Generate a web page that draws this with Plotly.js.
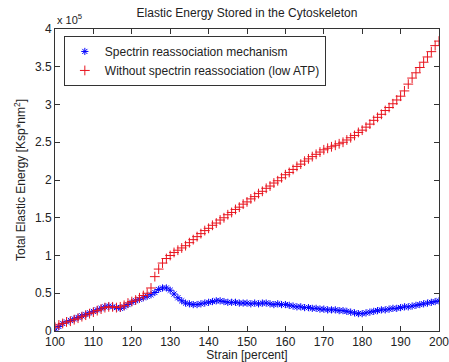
<!DOCTYPE html>
<html>
<head>
<meta charset="utf-8">
<script src="https://cdn.plot.ly/plotly-3.0.1.min.js"></script>
<style>html,body{margin:0;padding:0;background:#fff;}#chart{width:449px;height:362px;}</style>
</head>
<body>
<div id="chart"></div>
<script>
// Strain in percent (x axis)
const strain = [];
for (let s = 100; s <= 200; s++) strain.push(s);

// Total elastic energy, in units of 1e5 Ksp*nm^2
const withReassociation = [
  0.00,0.06,0.10,0.12,0.14,0.16,0.18,0.20,0.22,0.24,
  0.26,0.28,0.30,0.32,0.33,0.32,0.31,0.30,0.32,0.35,
  0.38,0.40,0.42,0.44,0.46,0.48,0.51,0.55,0.57,0.57,
  0.54,0.49,0.44,0.40,0.37,0.36,0.35,0.35,0.36,0.37,
  0.38,0.39,0.40,0.40,0.39,0.38,0.38,0.38,0.37,0.37,
  0.37,0.36,0.37,0.36,0.37,0.37,0.36,0.35,0.36,0.35,
  0.35,0.34,0.33,0.32,0.32,0.31,0.31,0.30,0.30,0.29,
  0.29,0.28,0.28,0.28,0.27,0.27,0.26,0.25,0.24,0.23,
  0.23,0.24,0.25,0.26,0.27,0.28,0.28,0.29,0.30,0.30,
  0.31,0.32,0.32,0.33,0.34,0.35,0.36,0.37,0.38,0.39,
  0.40
];
const withoutReassociation = [
  0.05,0.08,0.10,0.12,0.13,0.15,0.17,0.19,0.21,0.23,
  0.25,0.27,0.29,0.31,0.32,0.32,0.31,0.32,0.34,0.37,
  0.39,0.41,0.44,0.47,0.50,0.57,0.72,0.82,0.90,0.96,
  1.00,1.04,1.07,1.10,1.13,1.17,1.21,1.25,1.29,1.33,
  1.36,1.40,1.43,1.47,1.50,1.54,1.57,1.61,1.64,1.68,
  1.71,1.75,1.78,1.82,1.85,1.89,1.92,1.96,1.99,2.03,
  2.07,2.10,2.14,2.18,2.21,2.25,2.28,2.31,2.34,2.37,
  2.40,2.42,2.44,2.46,2.48,2.50,2.53,2.56,2.59,2.63,
  2.66,2.70,2.74,2.79,2.83,2.87,2.92,2.96,3.01,3.06,
  3.11,3.18,3.27,3.35,3.42,3.49,3.56,3.63,3.70,3.78,
  3.84
];

const seriesNames = ["Spectrin reassociation mechanism", "Without spectrin reassociation (low ATP)"];
const xTicks = [100,110,120,130,140,150,160,170,180,190,200];
const yTicks = [0,0.5,1,1.5,2,2.5,3,3.5,4];
const yTickLabels = ["0","0.5","1","1.5","2","2.5","3","3.5","4"];

const font = "Liberation Sans, Arial, sans-serif";
const axisColor = "#333333";

const traces = [
  {
    x: strain, y: withReassociation, name: seriesNames[0],
    type: "scatter", mode: "markers",
    marker: {symbol: "asterisk-open", size: 6, color: "#0000ff", line: {color: "#0000ff", width: 1}}
  },
  {
    x: strain, y: withoutReassociation, name: seriesNames[1],
    type: "scatter", mode: "markers",
    marker: {symbol: "cross-thin-open", size: 7, color: "#e8141e", line: {color: "#e8141e", width: 1}}
  }
];

const layout = {
  width: 449, height: 362,
  margin: {l: 55, r: 10, t: 29, b: 31},
  paper_bgcolor: "#ffffff", plot_bgcolor: "#ffffff",
  font: {family: font, size: 12, color: "#222"},
  showlegend: true,
  title: {text: "Elastic Energy Stored in the Cytoskeleton", font: {family: font, size: 12, color: "#222"},
          x: 0.5, xref: "paper", y: 0.975, yref: "container", xanchor: "center"},
  xaxis: {
    range: [100, 200], tickvals: xTicks, ticktext: xTicks.map(String),
    ticks: "inside", ticklen: 5, tickcolor: axisColor, mirror: "ticks",
    showline: true, linecolor: axisColor, linewidth: 1, showgrid: false, zeroline: false,
    ticklabeloverflow: "allow",
    tickfont: {family: font, size: 12, color: "#222"},
    title: {text: "Strain [percent]", font: {family: font, size: 12, color: "#222"}, standoff: 2}
  },
  yaxis: {
    range: [0, 4], tickvals: yTicks, ticktext: yTickLabels,
    ticks: "inside", ticklen: 5, tickcolor: axisColor, mirror: "ticks",
    showline: true, linecolor: axisColor, linewidth: 1, showgrid: false, zeroline: false,
    ticklabeloverflow: "allow",
    tickfont: {family: font, size: 12, color: "#222"},
    title: {text: "Total Elastic Energy [Ksp*nm<sup>2</sup>]", font: {family: font, size: 12, color: "#222"}, standoff: 6}
  },
  legend: {
    x: 0.023, y: 0.977, xanchor: "left", yanchor: "top",
    bgcolor: "#ffffff", bordercolor: "#333", borderwidth: 1,
    font: {family: font, size: 12, color: "#222"},
    tracegroupgap: 0, itemwidth: 30
  },
  annotations: [
    {text: "x 10<sup>5</sup>", xref: "paper", yref: "paper", x: 0.0, y: 1.0, xanchor: "left", yanchor: "bottom",
     showarrow: false, font: {family: font, size: 11, color: "#222"}, xshift: 0, yshift: 1}
  ]
};

Plotly.newPlot("chart", traces, layout, {displayModeBar: false, staticPlot: true});
</script>
</body>
</html>
